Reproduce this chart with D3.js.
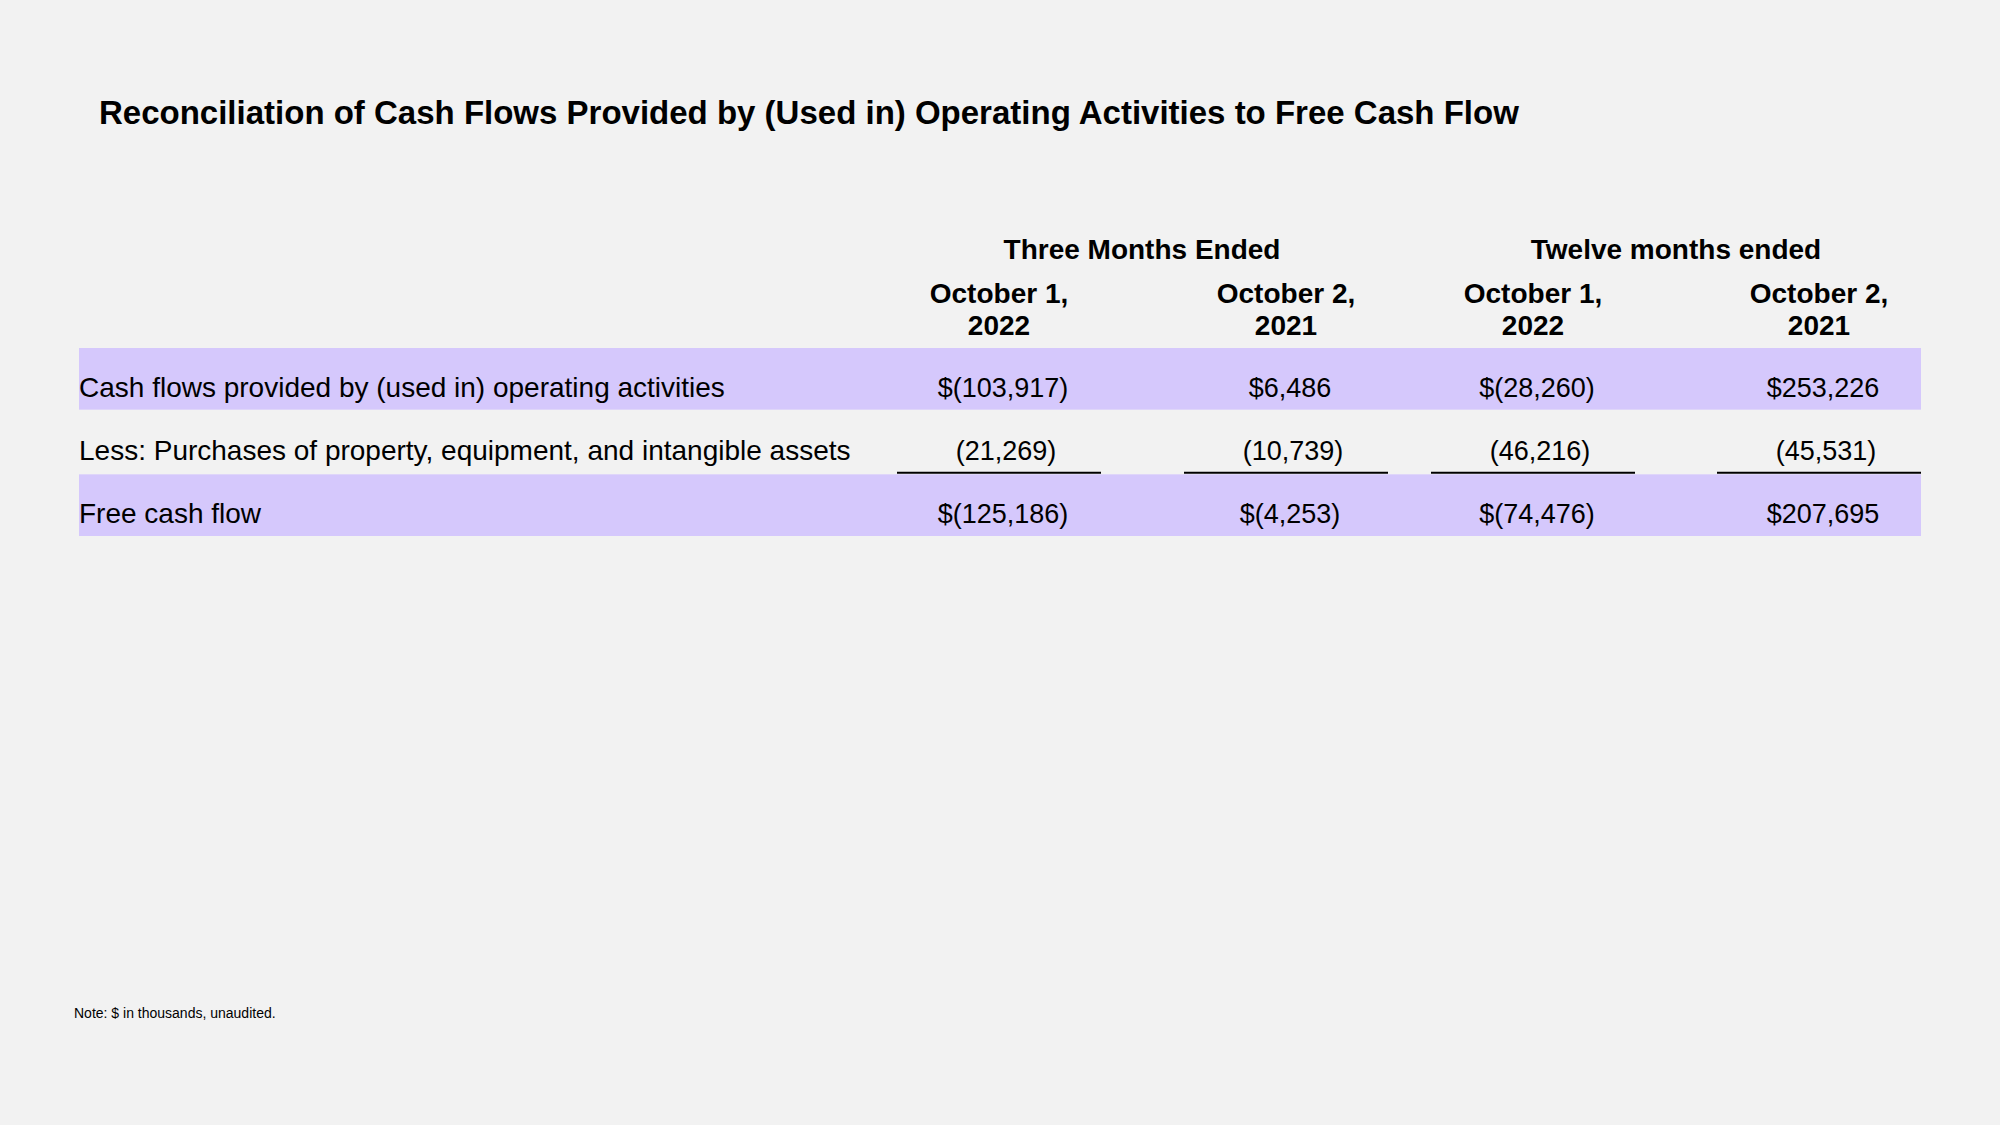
<!DOCTYPE html>
<html>
<head>
<meta charset="utf-8">
<script src="https://cdn.jsdelivr.net/npm/d3@7"></script>
<style>
  html, body { margin: 0; padding: 0; background: #f2f2f2; }
  svg { display: block; }
  text { font-family: "Helvetica Neue", Helvetica, "Liberation Sans", Arial, sans-serif; fill: #000; }
</style>
</head>
<body>
<div id="chart"></div>
<script>
// ---- data ----
const title = "Reconciliation of Cash Flows Provided by (Used in) Operating Activities to Free Cash Flow";
const groupHeaders = ["Three Months Ended", "Twelve months ended"];
const columnKeys = ["q2022", "q2021", "y2022", "y2021"];
const columnLine1 = ["October 1,", "October 2,", "October 1,", "October 2,"];
const columnLine2 = ["2022", "2021", "2022", "2021"];
const rowLabels = [
  "Cash flows provided by (used in) operating activities",
  "Less: Purchases of property, equipment, and intangible assets",
  "Free cash flow"
];
const operatingCF = [-103917, 6486, -28260, 253226];
const purchases = [-21269, -10739, -46216, -45531];
const freeCF = [-125186, -4253, -74476, 207695];
const rowDollar = [true, false, true];
const rowShaded = [true, false, true];
const note = "Note: $ in thousands, unaudited.";

const rowValues = [operatingCF, purchases, freeCF];

// ---- layout ----
const W = 2000, H = 1125;
const svg = d3.select("#chart").append("svg").attr("width", W).attr("height", H);
svg.append("rect").attr("width", W).attr("height", H).attr("fill", "#f2f2f2");

const tableLeft = 79, tableRight = 1921;
const colX = d3.scaleOrdinal().domain(columnKeys).range([999, 1286, 1533, 1819]);
const groupX = d3.scaleOrdinal().domain(groupHeaders).range([1142, 1676]);
const rowY = d3.scaleBand().domain(d3.range(rowLabels.length)).range([348, 536]).padding(0);
const underlineHalf = 102;

const num = d3.format(",");
function fmt(v, dollar) {
  const s = v < 0 ? "(" + num(-v) + ")" : num(v);
  return (dollar ? "$" : "") + s;
}

// title
svg.append("text")
  .attr("x", 99).attr("y", 124)
  .attr("font-size", 33).attr("font-weight", "bold")
  .text(title);

// group headers
svg.selectAll(".grp").data(groupHeaders).enter().append("text")
  .attr("class", "grp")
  .attr("x", d => groupX(d)).attr("y", 259)
  .attr("text-anchor", "middle")
  .attr("font-size", 28).attr("font-weight", "bold")
  .text(d => d);

// column headers
const colG = svg.selectAll(".colh").data(columnKeys).enter().append("text")
  .attr("class", "colh")
  .attr("text-anchor", "middle")
  .attr("font-size", 28).attr("font-weight", "bold");
colG.append("tspan").attr("x", d => colX(d)).attr("y", 303).text((d, i) => columnLine1[i]);
colG.append("tspan").attr("x", d => colX(d)).attr("y", 335).text((d, i) => columnLine2[i]);

// row bands
svg.selectAll(".band").data(rowLabels.map((d, i) => i).filter(i => rowShaded[i])).enter().append("rect")
  .attr("class", "band")
  .attr("x", tableLeft).attr("width", tableRight - tableLeft)
  .attr("y", i => rowY(i) + (i === 0 ? 0 : 1)).attr("height", i => rowY.bandwidth() - 1)
  .attr("fill", "#d5c8fc");

// row labels
svg.selectAll(".rlab").data(rowLabels).enter().append("text")
  .attr("class", "rlab")
  .attr("x", tableLeft).attr("y", (d, i) => rowY(i) + rowY.bandwidth() / 2 + 18)
  .attr("font-size", 28)
  .text(d => d);

// values
rowValues.forEach((vals, r) => {
  svg.selectAll(".v" + r).data(vals).enter().append("text")
    .attr("class", "v" + r)
    .attr("x", (d, i) => colX(columnKeys[i]) + (r === 1 ? 7 : 4))
    .attr("y", rowY(r) + rowY.bandwidth() / 2 + 18)
    .attr("text-anchor", "middle")
    .attr("font-size", 27)
    .text(d => fmt(d, rowDollar[r]));
});

// underlines below purchases row
svg.selectAll(".ul").data(columnKeys).enter().append("line")
  .attr("class", "ul")
  .attr("x1", d => colX(d) - underlineHalf).attr("x2", d => colX(d) + underlineHalf)
  .attr("y1", rowY(2) - 0.5).attr("y2", rowY(2) - 0.5)
  .attr("stroke", "#000").attr("stroke-width", 2);

// note
svg.append("text")
  .attr("x", 74).attr("y", 1018)
  .attr("font-size", 14)
  .text(note);
</script>
</body>
</html>
